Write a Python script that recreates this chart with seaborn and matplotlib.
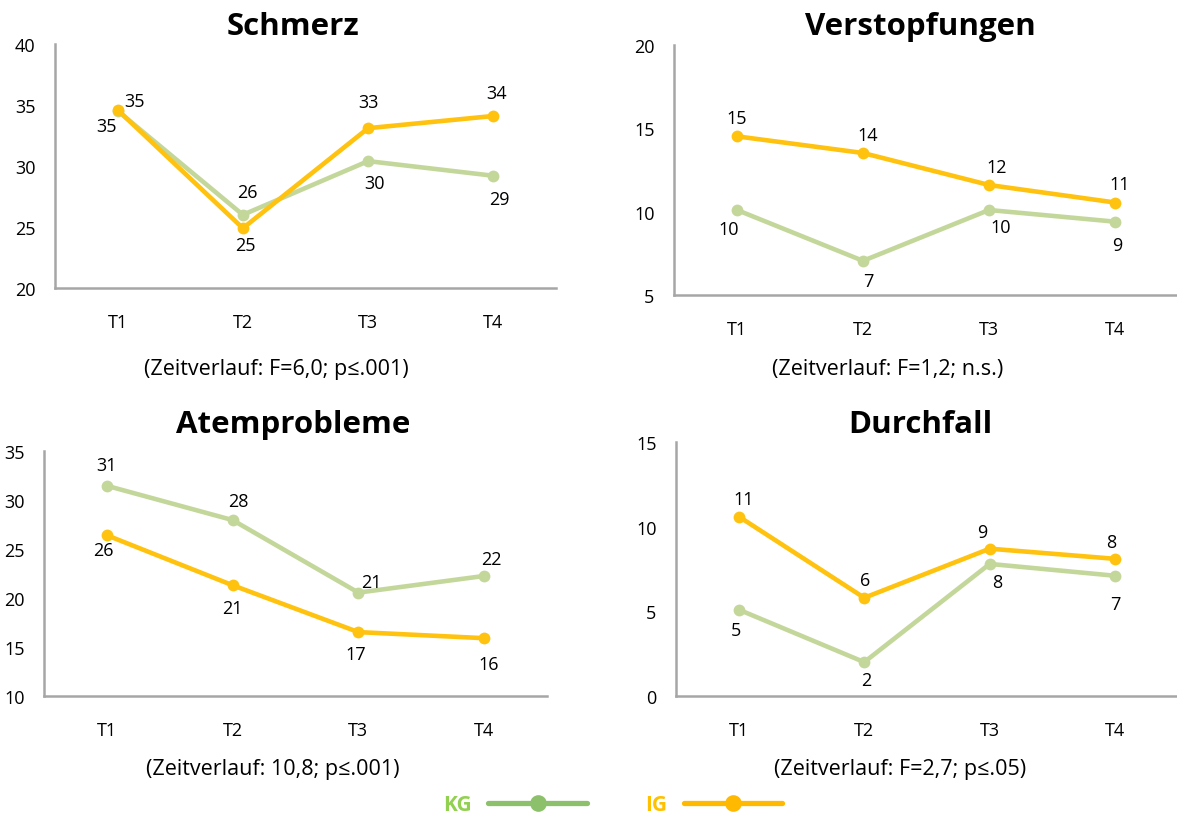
import matplotlib
matplotlib.use("Agg")
import matplotlib.pyplot as plt
from matplotlib.lines import Line2D
import seaborn as sns
import pandas as pd

# --- data -------------------------------------------------------------
zeitpunkte = ["T1", "T2", "T3", "T4"]
gruppen = ["KG", "IG"]

titel = ["Schmerz", "Verstopfungen", "Atemprobleme", "Durchfall"]
statistik = [
    "(Zeitverlauf: F=6,0; p\u2264.001)",
    "(Zeitverlauf: F=1,2; n.s.)",
    "(Zeitverlauf: 10,8; p\u2264.001)",
    "(Zeitverlauf: F=2,7; p\u2264.05)",
]

schmerz_kg = [34.52, 26.0, 30.4, 29.2]
schmerz_ig = [34.6, 24.9, 33.1, 34.1]
verstopfung_kg = [10.1, 7.05, 10.1, 9.4]
verstopfung_ig = [14.52, 13.52, 11.6, 10.55]
atem_kg = [31.45, 27.95, 20.55, 22.25]
atem_ig = [26.4, 21.3, 16.52, 15.9]
durchfall_kg = [5.1, 2.0, 7.8, 7.1]
durchfall_ig = [10.6, 5.8, 8.7, 8.1]

y_bereiche = [(20, 40), (5, 20), (10, 35), (0, 15)]

# --- styling ----------------------------------------------------------
sns.set_theme(style="white")
plt.rcParams["font.family"] = ["Open Sans", "DejaVu Sans"]

farben = {"KG": "#c4d79b", "IG": "#ffc20e"}
legenden_farben = {"KG": "#8dc06b", "IG": "#ffb900"}
text_farben = {"KG": "#92d050", "IG": "#ffc000"}
achsen_grau = "#a6a6a6"
schrift = 13

W, H = 1177, 820
fig = plt.figure(figsize=(W / 100, H / 100), dpi=100)

# axes boxes in pixels: left, top, right, bottom
boxen = [
    (55, 45, 556, 289),
    (674, 46, 1178, 296),
    (44, 452, 547, 697),
    (676, 443, 1178, 697),
]
titel_pos = [(293, 27), (920, 27), (293, 425), (920, 425)]
stat_pos = [(276, 370), (888, 370), (273, 770), (900, 770)]

# label offsets in pixels (dx, dy up) for each point
versatz = [
    {"KG": [(-11, -15), (4, 23), (6, -22), (6, -23)],
     "IG": [(17, 9), (3, -17), (0, 26), (3, 23)]},
    {"KG": [(-8, -19), (5, -20), (12, -17), (2, -23)],
     "IG": [(0, 18), (5, 18), (8, 18), (5, 18)]},
    {"KG": [(0, 21), (6, 19), (13, 11), (7, 17)],
     "IG": [(-3, -15), (0, -23), (-3, -22), (5, -26)]},
    {"KG": [(-3, -20), (2, -18), (7, -18), (0, -28)],
     "IG": [(5, 18), (1, 18), (-7, 17), (-4, 17)]},
]

reihen = [
    (schmerz_kg, schmerz_ig),
    (verstopfung_kg, verstopfung_ig),
    (atem_kg, atem_ig),
    (durchfall_kg, durchfall_ig),
]

for i, ((kg, ig), (l, t, r, b)) in enumerate(zip(reihen, boxen)):
    ax = fig.add_axes([l / W, 1 - b / H, (r - l) / W, (b - t) / H])
    df = pd.DataFrame({
        "Zeitpunkt": zeitpunkte * 2,
        "Wert": kg + ig,
        "Gruppe": ["KG"] * 4 + ["IG"] * 4,
    })
    sns.lineplot(data=df, x="Zeitpunkt", y="Wert", hue="Gruppe",
                 hue_order=gruppen, palette=farben, marker="o",
                 markersize=8.5, markeredgewidth=0, linewidth=3.3,
                 sort=False, legend=False, ax=ax)
    for g, werte in zip(gruppen, (kg, ig)):
        for j, v in enumerate(werte):
            dx, dy = versatz[i][g][j]
            ax.annotate(f"{v:.0f}", (j, v), xytext=(dx * 0.72, dy * 0.72),
                        textcoords="offset points", ha="center", va="center",
                        fontsize=schrift, color="black")
    lo, hi = y_bereiche[i]
    ax.set_ylim(lo, hi)
    ax.set_yticks(range(lo, hi + 1, 5))
    ax.set_xlim(-0.5, 3.5)
    ax.set_xlabel("")
    ax.set_ylabel("")
    for s in ("top", "right"):
        ax.spines[s].set_visible(False)
    for s in ("left", "bottom"):
        ax.spines[s].set_color(achsen_grau)
        ax.spines[s].set_linewidth(1.8)
    ax.tick_params(axis="y", length=0, pad=14, labelsize=schrift, colors="black")
    ax.tick_params(axis="x", length=0, pad=18, labelsize=schrift, colors="black")
    ax.set_facecolor("none")

    tx, ty = titel_pos[i]
    fig.text(tx / W, 1 - ty / H, titel[i], ha="center", va="center",
             fontsize=22.5, fontweight="bold", color="black")
    sx, sy = stat_pos[i]
    fig.text(sx / W, 1 - sy / H, statistik[i], ha="center", va="center",
             fontsize=15.5, color="black")

# legend: label text before the line handle
handles = [Line2D([], [], color=legenden_farben[g], lw=3.8, marker="o",
                  markersize=12, markeredgewidth=0) for g in gruppen]
leg = fig.legend(handles, gruppen, loc="center",
                 bbox_to_anchor=(613 / W, 1 - 806 / H), ncol=2,
                 markerfirst=False, frameon=False, handlelength=4.75,
                 handletextpad=0.77, columnspacing=2.8,
                 prop={"weight": "bold", "size": 15},
                 labelcolor=[text_farben[g] for g in gruppen])

fig.savefig("out.png", dpi=100, facecolor="white")
